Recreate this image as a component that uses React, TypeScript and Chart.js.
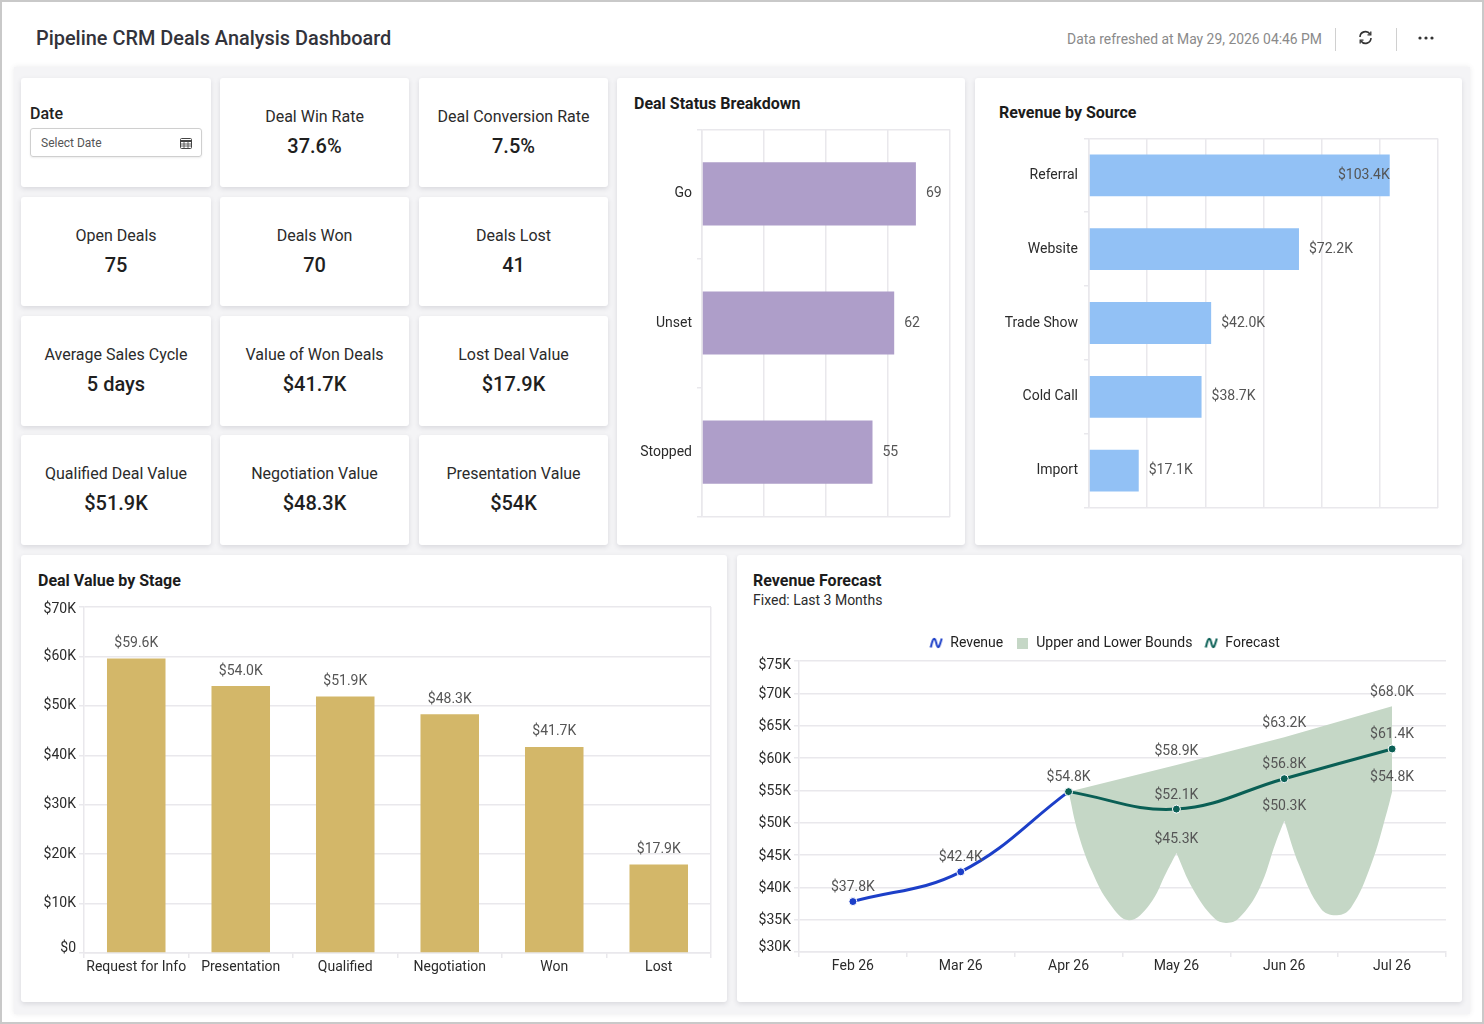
import React, { useEffect, useRef } from "react";
import { Chart, registerables } from "chart.js";

Chart.register(...registerables);
Chart.defaults.font.family = "Roboto";
Chart.defaults.font.size = 14;

const kpiTitles = [
  "Deal Win Rate", "Deal Conversion Rate",
  "Open Deals", "Deals Won", "Deals Lost",
  "Average Sales Cycle", "Value of Won Deals", "Lost Deal Value",
  "Qualified Deal Value", "Negotiation Value", "Presentation Value",
];
const kpiValues = [
  "37.6%", "7.5%",
  "75", "70", "41",
  "5 days", "$41.7K", "$17.9K",
  "$51.9K", "$48.3K", "$54K",
];

const statusNames = ["Go", "Unset", "Stopped"];
const statusCounts = [69, 62, 55];

const sourceNames = ["Referral", "Website", "Trade Show", "Cold Call", "Import"];
const sourceRevenue = [103.4, 72.2, 42.0, 38.7, 17.1];

const stageNames = ["Request for Info", "Presentation", "Qualified", "Negotiation", "Won", "Lost"];
const stageValues = [59.6, 54.0, 51.9, 48.3, 41.7, 17.9];

const forecastMonths = ["Feb 26", "Mar 26", "Apr 26", "May 26", "Jun 26", "Jul 26"];
const revenueValues = [37.8, 42.4, 54.8, null, null, null];
const forecastValues = [null, null, 54.8, 52.1, 56.8, 61.4];
const boundMonths = [2, 3, 4, 5];
const upperBound = [54.8, 58.9, 63.2, 68.0];
const lowerBound = [54.8, 45.3, 50.3, 54.8];
// the lower edge of the band dips between the months.
// the cusps at May and Jun are listed twice so the spline stays sharp there
const lowerEdgeX = [
  2, 2.09, 2.219, 2.38, 2.559, 2.75, 2.91, 3, 3,
  3.151, 3.352, 3.466, 3.583, 3.769, 3.923, 4, 4,
  4.139, 4.34, 4.49, 4.62, 4.803, 4.956, 5,
];
const lowerEdgeY = [
  54.8, 48.3, 42.4, 37.5, 34.9, 37.3, 42.4, 45.3, 45.3,
  39.8, 35.2, 34.5, 35.3, 39.8, 47, 50.3, 50.3,
  43.4, 36.7, 35.7, 36.9, 43.4, 51.9, 54.8,
];

const GRID = "#e9e8ec";
const AXIS_TEXT = "#2b2b2b";
const LABEL_TEXT = "#555555";
const money = (v: number) => `$${v.toFixed(1)}K`;
const tickMoney = (v: any) => (v === 0 ? "$0" : `$${v}K`);
// with offset grids the closing line has no tick of its own
const edgeLinesOnly = (c: any) => (!c.tick || c.index === 0 ? GRID : "transparent");
const closingLineOnly = (c: any) => (!c.tick ? GRID : "transparent");

// value labels at the end of each bar; a label that would not fit goes inside
const barLabels = (texts: string[], horizontal: boolean) => ({
  id: "barLabels",
  afterDatasetsDraw(chart: any) {
    const { ctx, chartArea } = chart;
    ctx.save();
    ctx.font = "14px Roboto";
    ctx.fillStyle = LABEL_TEXT;
    ctx.textBaseline = "middle";
    chart.getDatasetMeta(0).data.forEach((bar: any, i: number) => {
      if (horizontal) {
        const w = ctx.measureText(texts[i]).width;
        const fits = bar.x + 10 + w < chartArea.right;
        ctx.textAlign = fits ? "left" : "right";
        ctx.fillText(texts[i], fits ? bar.x + 10 : bar.x, bar.y);
      } else {
        ctx.textAlign = "center";
        ctx.fillText(texts[i], bar.x, bar.y - 15);
      }
    });
    ctx.restore();
  },
});

const forecastLabels = {
  id: "forecastLabels",
  afterDatasetsDraw(chart: any) {
    const { ctx, scales } = chart;
    const put = (idx: number, v: number) =>
      ctx.fillText(money(v), scales.x2.getPixelForValue(idx), scales.y.getPixelForValue(v) - 14);
    ctx.save();
    ctx.font = "14px Roboto";
    ctx.fillStyle = LABEL_TEXT;
    ctx.textAlign = "center";
    ctx.textBaseline = "middle";
    revenueValues.forEach((v, i) => v !== null && put(i, v));
    forecastValues.forEach((v, i) => v !== null && i > 2 && put(i, v));
    boundMonths.forEach((m, i) => {
      if (i === 0) return;
      put(m, upperBound[i]);
      put(m, lowerBound[i]);
    });
    ctx.restore();
  },
};

// the first and last y tick labels sit inside the axis range, not on their gridline
const nudgeEndLabels = (bottom: number, top: number, rest: number) => ({
  id: "nudgeEndLabels",
  beforeDraw(chart: any) {
    const items = chart.scales.y.getLabelItems();
    items.forEach((item: any, i: number) => {
      const d = i === 0 ? bottom : i === items.length - 1 ? top : rest;
      item.options.translation[1] += d;
    });
  },
});

const moveLegend = (dx: number, dy: number) => ({
  id: "moveLegend",
  beforeDraw(chart: any) {
    chart.legend.left += dx * 2;
    chart.legend.top += dy;
  },
});

const waveIcon = (color: string) => {
  const c = document.createElement("canvas");
  c.width = 14;
  c.height = 12;
  const g = c.getContext("2d")!;
  g.strokeStyle = color;
  g.lineWidth = 2;
  g.beginPath();
  g.moveTo(1.5, 10.5);
  g.bezierCurveTo(3, 4, 4, 1, 5.5, 2);
  g.bezierCurveTo(7, 3, 7, 9, 8.5, 10);
  g.bezierCurveTo(10, 11, 11, 6, 12.5, 1.5);
  g.stroke();
  return c;
};

const squareIcon = (color: string) => {
  const c = document.createElement("canvas");
  c.width = 11;
  c.height = 11;
  const g = c.getContext("2d")!;
  g.fillStyle = color;
  g.fillRect(0, 0, 11, 11);
  return c;
};

const statusConfig = () => ({
  type: "bar",
  data: {
    labels: statusNames,
    datasets: [{ data: statusCounts, backgroundColor: "#ae9ec9", categoryPercentage: 1, barPercentage: 0.49 }],
  },
  options: {
    indexAxis: "y",
    animation: false,
    responsive: false,
    events: [],
    layout: { autoPadding: false, padding: { right: 15 } },
    plugins: { legend: { display: false }, tooltip: { enabled: false } },
    scales: {
      x: {
        min: 0, max: 80,
        ticks: { display: false, stepSize: 20 },
        grid: { color: GRID, lineWidth: 1.5, drawTicks: false },
        border: { display: false },
        afterFit: (s: any) => { s.height = 0; },
      },
      y: {
        ticks: { color: AXIS_TEXT, padding: 5 },
        grid: { color: edgeLinesOnly, tickColor: GRID, lineWidth: 1.5, tickLength: 5 },
        border: { color: GRID, width: 1.5 },
        afterFit: (s: any) => { s.width = 85; },
      },
    },
  },
  plugins: [barLabels(statusCounts.map(String), true)],
});

const sourceConfig = () => ({
  type: "bar",
  data: {
    labels: sourceNames,
    datasets: [{ data: sourceRevenue, backgroundColor: "#92c1f5", categoryPercentage: 1, barPercentage: 0.567 }],
  },
  options: {
    indexAxis: "y",
    animation: false,
    responsive: false,
    events: [],
    layout: { autoPadding: false, padding: { right: 24 } },
    plugins: { legend: { display: false }, tooltip: { enabled: false } },
    scales: {
      x: {
        min: 0, max: 120,
        ticks: { display: false, stepSize: 20 },
        grid: { color: GRID, lineWidth: 1.5, drawTicks: false },
        border: { display: false },
        afterFit: (s: any) => { s.height = 0; },
      },
      y: {
        ticks: { color: AXIS_TEXT, padding: 6 },
        grid: { color: edgeLinesOnly, tickColor: GRID, lineWidth: 1.5, tickLength: 5 },
        border: { color: GRID, width: 1.5 },
        afterFit: (s: any) => { s.width = 114; },
      },
    },
  },
  plugins: [barLabels(sourceRevenue.map(money), true)],
});

const stageConfig = () => ({
  type: "bar",
  data: {
    labels: stageNames,
    datasets: [{ data: stageValues, backgroundColor: "#d3b769", categoryPercentage: 1, barPercentage: 0.56 }],
  },
  options: {
    animation: false,
    responsive: false,
    events: [],
    layout: { autoPadding: false, padding: { top: 17, right: 16 } },
    plugins: { legend: { display: false }, tooltip: { enabled: false } },
    scales: {
      x: {
        ticks: { color: AXIS_TEXT, padding: 1, autoSkip: false, maxRotation: 0 },
        grid: { color: closingLineOnly, tickColor: GRID, lineWidth: 1.5, tickLength: 5 },
        border: { color: GRID, width: 1.5 },
        afterFit: (s: any) => { s.height = 30; },
      },
      y: {
        min: 0, max: 70,
        ticks: { color: AXIS_TEXT, stepSize: 10, padding: 3, callback: tickMoney },
        grid: { color: GRID, lineWidth: 1.5, tickLength: 5 },
        border: { color: GRID, width: 1.5 },
        afterFit: (s: any) => { s.width = 63; },
      },
    },
  },
  plugins: [barLabels(stageValues.map(money), false), nudgeEndLabels(-5, 2, 0)],
});

const forecastConfig = () => ({
  type: "line",
  data: {
    labels: forecastMonths,
    datasets: [
      {
        label: "Revenue",
        data: revenueValues,
        borderColor: "#1c3fc8",
        backgroundColor: "#1c3fc8",
        borderWidth: 3,
        tension: 0.4,
        pointRadius: 4,
        pointBorderColor: "#ffffff",
        pointBorderWidth: 1,
        order: 2,
      },
      {
        label: "Upper and Lower Bounds",
        xAxisID: "x2",
        data: boundMonths.map((x, i) => ({ x, y: upperBound[i] })),
        borderWidth: 0,
        pointRadius: 0,
        backgroundColor: "#c5d7c6",
        fill: 2,
        order: 3,
      },
      {
        label: "Lower",
        xAxisID: "x2",
        data: lowerEdgeX.map((x, i) => ({ x, y: lowerEdgeY[i] })),
        borderWidth: 0,
        pointRadius: 0,
        tension: 0.4,
        order: 3,
      },
      {
        label: "Forecast",
        data: forecastValues,
        borderColor: "#0a5f55",
        backgroundColor: "#0a5f55",
        borderWidth: 3,
        tension: 0.4,
        pointRadius: 4,
        pointBorderColor: "#ffffff",
        pointBorderWidth: 1,
        order: 1,
      },
    ],
  },
  options: {
    animation: false,
    responsive: false,
    events: [],
    layout: { autoPadding: false, padding: { top: 4, right: 16 } },
    plugins: {
      tooltip: { enabled: false },
      legend: {
        position: "top",
        labels: {
          color: "#222222",
          padding: 12,
          usePointStyle: true,
          pointStyleWidth: 14,
          font: { size: 14 },
          generateLabels: () => [
            { text: "Revenue", pointStyle: waveIcon("#1c3fc8"), fontColor: "#222222", lineWidth: 0, strokeStyle: "transparent", fillStyle: "transparent" },
            { text: "Upper and Lower Bounds", pointStyle: squareIcon("#c5d7c6"), fontColor: "#222222", lineWidth: 0, strokeStyle: "transparent", fillStyle: "transparent" },
            { text: "Forecast", pointStyle: waveIcon("#0a5f55"), fontColor: "#222222", lineWidth: 0, strokeStyle: "transparent", fillStyle: "transparent" },
          ],
        },
      },
    },
    scales: {
      x: {
        offset: true,
        ticks: { color: AXIS_TEXT, padding: 1, autoSkip: false, maxRotation: 0 },
        grid: { offset: true, drawOnChartArea: false, tickColor: GRID, lineWidth: 1.5, tickLength: 5 },
        border: { color: GRID, width: 1.5 },
        afterFit: (s: any) => { s.height = 30; },
      },
      x2: { type: "linear", display: false, min: -0.5, max: 5.5 },
      y: {
        min: 30, max: 75,
        ticks: { color: AXIS_TEXT, stepSize: 5, padding: 3, callback: tickMoney },
        grid: { color: GRID, lineWidth: 1.5, tickLength: 5 },
        border: { color: GRID, width: 1.5 },
        afterFit: (s: any) => { s.width = 52; },
      },
    },
  },
  plugins: [forecastLabels, nudgeEndLabels(-5, 4, 1), moveLegend(8, -1)],
});

const ChartBox = ({ left, top, width, height, config }: any) => {
  const ref = useRef<HTMLCanvasElement | null>(null);
  useEffect(() => {
    if (!ref.current) return;
    const chart = new Chart(ref.current, config());
    return () => chart.destroy();
  }, []);
  return (
    <canvas
      ref={ref}
      width={width}
      height={height}
      style={{ position: "absolute", left, top, width, height, display: "block" }}
    />
  );
};

const Card = ({ left, top, width, height }: any) => (
  <div
    style={{
      position: "absolute", left, top, width, height,
      background: "#ffffff", borderRadius: 3,
      boxShadow: "0 2px 5px rgba(60,60,80,0.14)",
    }}
  />
);

const Text = ({ left, top, width, size, weight, color, align, children }: any) => (
  <div
    style={{
      position: "absolute", left, top, width,
      transform: "translateY(-50%)",
      fontSize: size, fontWeight: weight || 400, color: color || "#222",
      textAlign: align || "left", whiteSpace: "nowrap", lineHeight: 1.2,
    }}
  >
    {children}
  </div>
);

const colX = [21, 220, 419];
const colW = [190, 189, 189];
const rowY = [78, 197, 316, 435];
const rowH = [109, 109, 110, 110];

const App = () => {
  const kpiCells: any[] = [];
  rowY.forEach((_, r) =>
    colX.forEach((_, c) => {
      if (r === 0 && c === 0) return;
      kpiCells.push({ r, c });
    })
  );

  return (
    <div
      style={{
        position: "absolute", left: 0, top: 0, width: 1484, height: 1024,
        overflow: "hidden", background: "#ffffff", fontFamily: "Roboto",
        boxSizing: "border-box", border: "2px solid #c9c9c9",
      }}
    >
      <div style={{ position: "absolute", left: -2, top: -2, width: 1484, height: 1024 }}>
        <div
          style={{
            position: "absolute", left: 14, top: 67, width: 1456, height: 947,
            background: "#f4f4f6", boxShadow: "0 0 5px rgba(80,80,90,0.12)",
          }}
        />

        <Text left={36} top={38.5} size={19.9} weight={500} color="#33333b">
          Pipeline CRM Deals Analysis Dashboard
        </Text>
        <Text left={1022} top={39} width={300} size={13.9} color="#8a8a8a" align="right">
          Data refreshed at May 29, 2026 04:46 PM
        </Text>
        <div style={{ position: "absolute", left: 1335, top: 28, width: 1, height: 23, background: "#d0d0d0" }} />
        <div style={{ position: "absolute", left: 1396, top: 28, width: 1, height: 23, background: "#d0d0d0" }} />
        <svg style={{ position: "absolute", left: 1358, top: 30 }} width="15" height="15" viewBox="0 0 15 15" fill="none" stroke="#333" strokeWidth="1.6">
          <path d="M2 7 A5.5 5.5 0 0 1 12 4" />
          <path d="M13 8 A5.5 5.5 0 0 1 3 11" />
          <path d="M12.8 1.5 V4.8 H9.5" strokeWidth="1.3" />
          <path d="M2.2 13.5 V10.2 H5.5" strokeWidth="1.3" />
        </svg>
        <svg style={{ position: "absolute", left: 1418, top: 35 }} width="16" height="6" fill="#333">
          <circle cx="2" cy="3" r="1.6" />
          <circle cx="8" cy="3" r="1.6" />
          <circle cx="14" cy="3" r="1.6" />
        </svg>

        <Card left={21} top={78} width={190} height={109} />
        <Text left={30} top={113.5} size={16} weight={500} color="#222">Date</Text>
        <div
          style={{
            position: "absolute", left: 30, top: 128, width: 172, height: 29,
            boxSizing: "border-box", border: "1px solid #cfcfcf", borderRadius: 3,
            boxShadow: "0 1px 2px rgba(0,0,0,0.08)",
          }}
        />
        <Text left={41} top={143} size={12} color="#555">Select Date</Text>
        <svg style={{ position: "absolute", left: 180, top: 137 }} width="12" height="12" viewBox="0 0 12 12" fill="none" stroke="#444">
          <rect x="0.5" y="1.5" width="11" height="10" rx="1" />
          <path d="M0.5 4 H11.5" strokeWidth="2" />
          <path d="M4 5 V11 M8 5 V11 M1 7 H11 M1 9 H11" strokeWidth="0.8" />
        </svg>

        {kpiCells.map(({ r, c }, i) => (
          <React.Fragment key={kpiTitles[i]}>
            <Card left={colX[c]} top={rowY[r]} width={colW[c]} height={rowH[r]} />
            <Text left={colX[c]} top={rowY[r] + 38.5} width={colW[c]} size={16} align="center" color="#2b2b2b">
              {kpiTitles[i]}
            </Text>
            <Text left={colX[c]} top={rowY[r] + 68} width={colW[c]} size={20} weight={500} align="center" color="#1f1f1f">
              {kpiValues[i]}
            </Text>
          </React.Fragment>
        ))}

        <Card left={617} top={78} width={348} height={467} />
        <Card left={975} top={78} width={487} height={467} />
        <Card left={21} top={555} width={706} height={447} />
        <Card left={737} top={555} width={725} height={447} />

        <Text left={634} top={103.5} size={16} weight={700} color="#1c1c1c">Deal Status Breakdown</Text>
        <Text left={999} top={112.5} size={16} weight={700} color="#1c1c1c">Revenue by Source</Text>
        <Text left={38} top={580.5} size={16} weight={700} color="#1c1c1c">Deal Value by Stage</Text>
        <Text left={753} top={580.5} size={16} weight={700} color="#1c1c1c">Revenue Forecast</Text>
        <Text left={753} top={600} size={14} color="#2b2b2b">Fixed: Last 3 Months</Text>

        <ChartBox left={617} top={116} width={348} height={414} config={statusConfig} />
        <ChartBox left={975} top={124} width={487} height={398} config={sourceConfig} />
        <ChartBox left={21} top={590} width={706} height={393} config={stageConfig} />
        <ChartBox left={747} top={621} width={715} height={361} config={forecastConfig} />
      </div>
    </div>
  );
};

export default App;
